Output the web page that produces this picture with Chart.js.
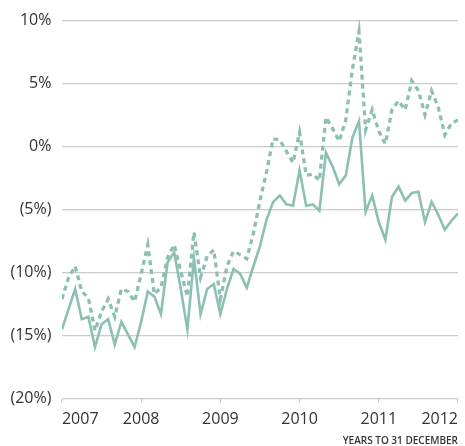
<!DOCTYPE html>
<html>
<head>
<meta charset="utf-8">
<script src="https://cdn.jsdelivr.net/npm/chart.js@4"></script>
<style>
  html, body { margin: 0; padding: 0; background: #fff; }
  #wrap { width: 465px; height: 446px; }
</style>
</head>
<body>
<div id="wrap"><canvas id="myChart" width="465" height="446"></canvas></div>
<script>
// monthly points, Dec 2006 .. Dec 2011 (index 0..60), % return
var yearLabels = ['2007', '2008', '2009', '2010', '2011', '2012'];
var solidLine = [
  -14.5, -12.9, -11.3, -13.7, -13.5, -15.9, -14.1, -13.7, -15.7, -13.9, -14.9, -15.9,
  -13.9, -11.5, -11.9, -13.3, -9.2, -8.4, -11.3, -14.5, -8.9, -13.3, -11.3, -10.9,
  -13.3, -11.3, -9.7, -10.1, -11.2, -9.5, -7.9, -5.8, -4.4, -3.9, -4.6, -4.7,
  -1.9, -4.7, -4.6, -5.1, -0.5, -1.6, -3.0, -2.3, 0.7, 2.0, -5.2, -3.9,
  -6.0, -7.4, -4.0, -3.2, -4.3, -3.7, -3.6, -6.0, -4.4, -5.4, -6.6, -5.9,
  -5.3
];
var dashedLine = [
  -12.1, -10.4, -9.5, -11.5, -12.0, -14.6, -13.1, -12.1, -13.5, -11.3, -11.5, -12.3,
  -10.1, -7.8, -11.7, -11.2, -8.8, -7.8, -9.9, -11.9, -6.8, -10.4, -8.7, -8.2,
  -12.1, -9.5, -8.3, -8.6, -8.9, -6.9, -4.3, -2.0, 0.6, 0.5, -0.4, -1.3,
  1.1, -2.3, -2.2, -2.7, 2.3, 1.4, 0.4, 2.1, 6.1, 9.1, 1.3, 2.9,
  1.2, 0.2, 2.9, 3.6, 2.9, 5.2, 4.4, 2.5, 4.4, 3.1, 0.9, 1.8,
  2.1
];

var teal = '#8cc0b3';
var gridGrey = '#cbcbcb';
var textCol = '#333333';

function toPoints(arr) {
  return arr.map(function (v, i) { return { x: i, y: v }; });
}

Chart.defaults.font.family = "'Open Sans', sans-serif";
Chart.defaults.color = textCol;

var config = {
  type: 'line',
  data: {
    datasets: [{
      label: 'solid',
      data: toPoints(solidLine),
      borderColor: teal,
      borderWidth: 2.6,
      pointRadius: 0,
      tension: 0
    }, {
      label: 'dashed',
      data: toPoints(dashedLine),
      borderColor: teal,
      borderWidth: 3.3,
      borderDash: [5, 4],
      pointRadius: 0,
      tension: 0
    }]
  },
  options: {
    responsive: false,
    animation: false,
    layout: { padding: { top: 19, right: -4, bottom: 0, left: 0 } },
    plugins: {
      legend: { display: false },
      tooltip: { enabled: false }
    },
    scales: {
      x: {
        type: 'linear',
        min: 0,
        max: 60,
        border: { display: false },
        grid: {
          drawOnChartArea: false,
          drawTicks: true,
          tickLength: 4,
          color: gridGrey,
          lineWidth: 1.2
        },
        ticks: {
          stepSize: 12,
          align: 'inner',
          padding: 7,
          maxRotation: 0,
          font: { size: 16 },
          color: textCol,
          callback: function (v) { return yearLabels[v / 12]; }
        },
        title: {
          display: true,
          text: 'YEARS TO 31 DECEMBER',
          align: 'end',
          color: textCol,
          font: { size: 10, weight: '600', lineHeight: 1 },
          padding: { top: 0, bottom: 0 }
        }
      },
      y: {
        min: -20,
        max: 10,
        border: { display: false },
        grid: {
          drawTicks: false,
          color: gridGrey,
          lineWidth: 1.2
        },
        ticks: {
          stepSize: 5,
          padding: 10.5,
          font: { size: 16 },
          color: textCol,
          callback: function (v) { return v < 0 ? '(' + (-v) + '%)' : v + '%'; }
        }
      }
    }
  }
};

var myChart = new Chart(document.getElementById('myChart'), config);
</script>
</body>
</html>
